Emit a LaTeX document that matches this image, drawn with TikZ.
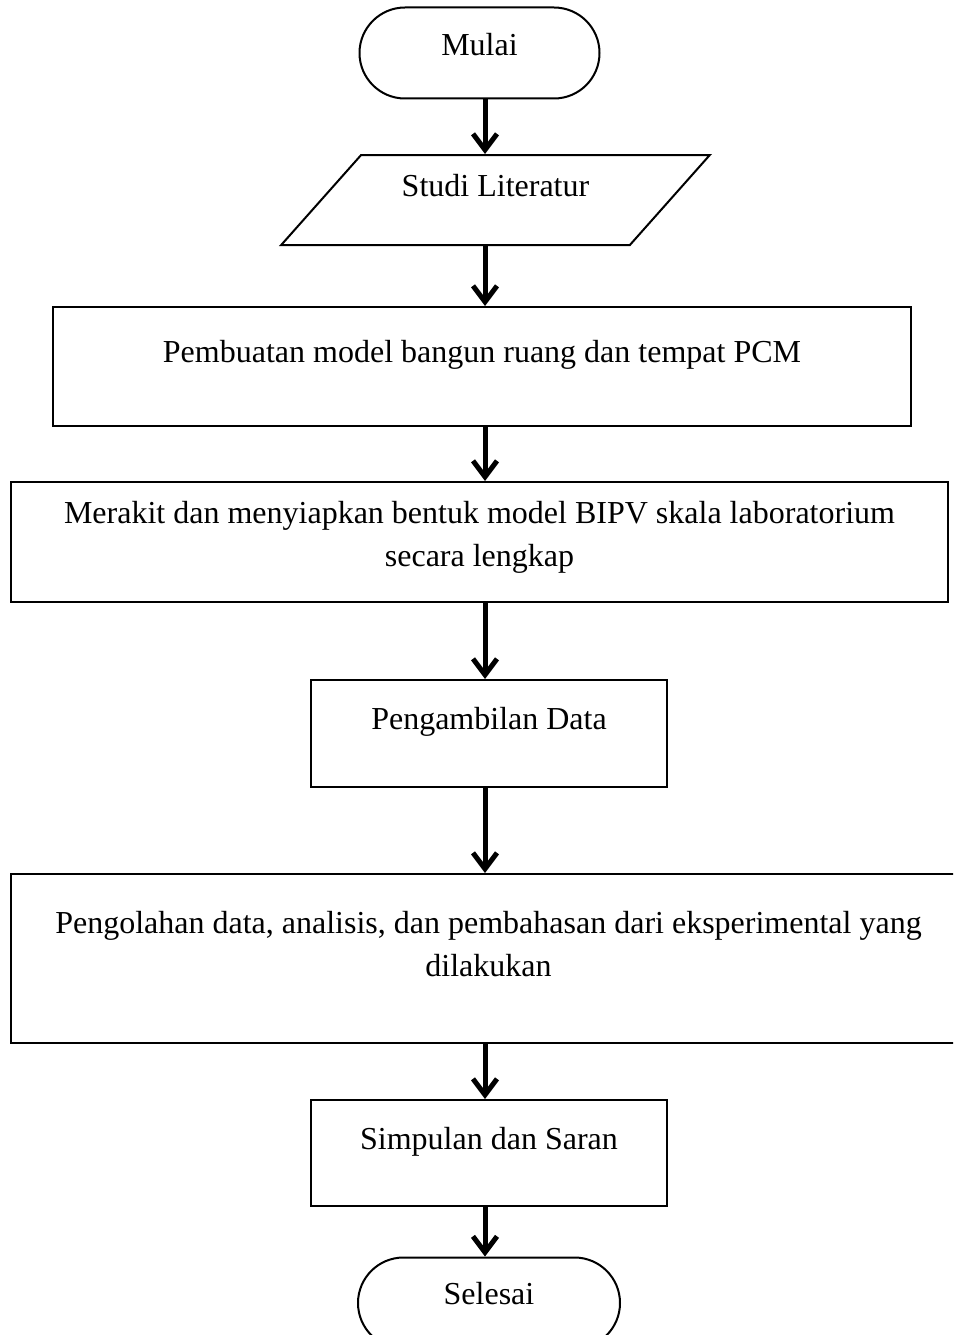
\documentclass[tikz,border=0pt]{standalone}
\usepackage{fontspec}
\setmainfont{Liberation Serif}
\usetikzlibrary{arrows.meta,positioning,shapes.geometric,shapes.misc}
\tikzset{
  >={Straight Barb[length=16pt,width=24pt]},
  base/.style={draw,line width=2pt,align=center,font=\fontsize{32}{43}\selectfont,inner sep=4pt},
  term/.style={base,rounded rectangle,minimum width=248pt,minimum height=91pt,text depth=17pt},
  io/.style={base,trapezium,trapezium left angle=46,trapezium right angle=134,trapezium stretches=true,minimum width=429pt,minimum height=90pt,text depth=30pt},
  box/.style={base,rectangle,text depth=30pt},
  arr/.style={->,line width=5pt},
}
\begin{document}
\begin{tikzpicture}[x=1pt,y=-1pt]
\useasboundingbox (0,0) rectangle (953,1335);
\clip (0,0) rectangle (953,1335);
\coordinate (spine) at (485,0);

\node[term] (mulai) at (479.5,53) {Mulai};
\node[io] (studi) at (495.5,200) {Studi Literatur};
\node[box,minimum width=858pt,minimum height=119pt] (model) at (482,366.5) {Pembuatan model bangun ruang dan tempat PCM};
\node[box,minimum width=937pt,minimum height=120pt,text depth=16pt] (rakit) at (479.5,542) {Merakit dan menyiapkan bentuk model BIPV skala laboratorium\\secara lengkap};
\node[box,minimum width=356pt,minimum height=107pt] (data) at (489,733.5) {Pengambilan Data};
\node[box,minimum width=955pt,minimum height=169pt,text depth=29pt] (olah) at (488.5,958.5) {Pengolahan data, analisis, dan pembahasan dari eksperimental yang\\dilakukan};
\node[box,minimum width=356pt,minimum height=106pt] (simpul) at (489,1153) {Simpulan dan Saran};
\node[term,minimum width=270pt,text depth=20pt] (selesai) at (489,1303) {Selesai};

\draw[arr] (mulai.south -| spine) -- (studi.north -| spine);
\draw[arr] (studi.south -| spine) -- (model.north -| spine);
\draw[arr] (model.south -| spine) -- (rakit.north -| spine);
\draw[arr] (rakit.south -| spine) -- (data.north -| spine);
\draw[arr] (data.south -| spine) -- (olah.north -| spine);
\draw[arr] (olah.south -| spine) -- (simpul.north -| spine);
\draw[arr] (simpul.south -| spine) -- (selesai.north -| spine);
\end{tikzpicture}
\end{document}
